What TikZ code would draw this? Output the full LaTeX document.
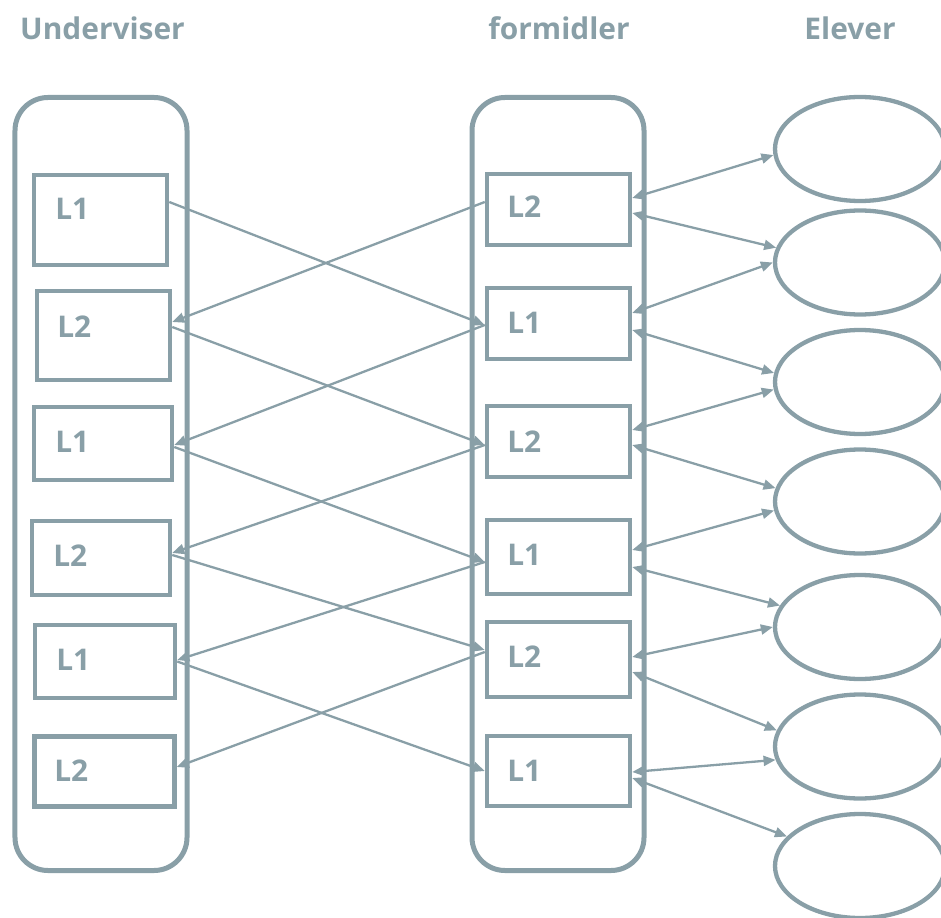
\documentclass[tikz,border=0pt]{standalone}
\usepackage{fontspec}
\setmainfont{Open Sans}
\usetikzlibrary{arrows.meta,shapes.geometric}
\definecolor{gb}{RGB}{137,159,167}
\tikzset{
  container/.style={draw=gb, line width=1mm, rounded corners=6.6mm, minimum width=34.4mm, minimum height=154.6mm, inner sep=0},
  lbox/.style={draw=gb, line width=0.9mm, inner sep=0},
  ell/.style={draw=gb, line width=0.86mm, ellipse, minimum width=34mm, minimum height=20.8mm, inner sep=0},
  ttl/.style={text=gb, font=\fontsize{17}{20}\selectfont\bfseries, anchor=base, inner sep=0},
  lbl/.style={text=gb, font=\fontsize{17}{20}\selectfont\bfseries, anchor=base west, inner sep=0},
  conn/.style={draw=gb, line width=0.46mm, -{Triangle[length=2.4mm,width=2mm]}},
  dconn/.style={draw=gb, line width=0.46mm, {Triangle[length=2.4mm,width=2mm]}-{Triangle[length=2.4mm,width=2mm]}}
}
\begin{document}
\begin{tikzpicture}[x=0.2mm, y=-0.2mm]
\useasboundingbox (0,0) rectangle (941,918);
% titles
\node[ttl] (t1) at (102.5,40) {Underviser};
\node[ttl] (t2) at (559,40) {formidler};
\node[ttl] (t3) at (850,40) {Elever};
% containers
\node[container] (cl) at (101,484) {};
\node[container] (cm) at (558,484) {};
% left boxes
\node[lbox, minimum width=26.6mm, minimum height=18mm]   (l1) at (100.5,220) {};
\node[lbox, minimum width=26.6mm, minimum height=17.8mm] (l2) at (103.5,335.5) {};
\node[lbox, minimum width=27.6mm, minimum height=14.6mm] (l3) at (103,443.5) {};
\node[lbox, minimum width=27.6mm, minimum height=14.8mm] (l4) at (101,558) {};
\node[lbox, minimum width=28mm, minimum height=14.6mm]   (l5) at (105,661.5) {};
\node[lbox, minimum width=28mm, minimum height=14mm]     (l6) at (104.5,771.5) {};
% middle boxes
\node[lbox, minimum width=28.6mm, minimum height=14.2mm] (m1) at (558.5,209.5) {};
\node[lbox, minimum width=28.6mm, minimum height=14.2mm] (m2) at (558.5,323.5) {};
\node[lbox, minimum width=28.6mm, minimum height=14.2mm] (m3) at (558.5,441.5) {};
\node[lbox, minimum width=28.6mm, minimum height=14.8mm] (m4) at (558.5,557) {};
\node[lbox, minimum width=28.6mm, minimum height=15mm]   (m5) at (558.5,659.5) {};
\node[lbox, minimum width=28.6mm, minimum height=14mm]   (m6) at (558.5,771) {};
% labels
\node[lbl] (tl1) at (55,220) {L1};
\node[lbl] (tl2) at (57,337) {L2};
\node[lbl] (tl3) at (55,452) {L1};
\node[lbl] (tl4) at (53,566) {L2};
\node[lbl] (tl5) at (56,670) {L1};
\node[lbl] (tl6) at (54,781) {L2};
\node[lbl] (tm1) at (507,218) {L2};
\node[lbl] (tm2) at (507,333) {L1};
\node[lbl] (tm3) at (507,452) {L2};
\node[lbl] (tm4) at (507,565) {L1};
\node[lbl] (tm5) at (507,667) {L2};
\node[lbl] (tm6) at (507,781) {L1};
% ellipses
\node[ell] (e1) at (860,149) {};
\node[ell] (e2) at (860,262.5) {};
\node[ell] (e3) at (860,382) {};
\node[ell] (e4) at (860,501.5) {};
\node[ell] (e5) at (860,627) {};
\node[ell] (e6) at (860,746.5) {};
\node[ell] (e7) at (860,866) {};
% left <-> middle connectors
\draw[conn] ([yshift=3.6mm]l1.east) -- ([yshift=-0.3mm]m2.west);
\draw[conn] ([yshift=1.5mm]m1.west) -- ([yshift=2.7mm]l2.east);
\draw[conn] ([yshift=1.7mm]l2.east) -- ([yshift=-0.7mm]m3.west);
\draw[conn] ([yshift=-0.3mm]m2.west) -- ([yshift=-0.3mm]l3.east);
\draw[conn] ([yshift=-0.7mm]l3.east) -- ([yshift=-1mm]m4.west);
\draw[conn] ([yshift=-0.7mm]m3.west) -- ([yshift=1mm]l4.east);
\draw[conn] ([yshift=0.6mm]l4.east) -- ([yshift=1.9mm]m5.west);
\draw[conn] ([yshift=-1mm]m4.west) -- ([yshift=0.3mm]l5.east);
\draw[conn] (l5.east) -- (m6.west);
\draw[conn] ([yshift=1.5mm]m5.west) -- ([yshift=0.9mm]l6.east);
% middle <-> ellipses
\draw[dconn] ([yshift=2.3mm]m1.east) -- (e1.184);
\draw[dconn] ([yshift=-0.7mm]m1.east) -- (e2.170);
\draw[dconn] ([yshift=2.1mm]m2.east) -- (e2.180);
\draw[dconn] ([yshift=-1.3mm]m2.east) -- (e3.174);
\draw[dconn] ([yshift=2.3mm]m3.east) -- (e3.185);
\draw[dconn] ([yshift=-0.7mm]m3.east) -- (e4.171);
\draw[dconn] ([yshift=1.4mm]m4.east) -- (e4.186);
\draw[dconn] ([yshift=-2mm]m4.east) -- (e5.165);
\draw[dconn] ([yshift=0.5mm]m5.east) -- (e5.180);
\draw[dconn] ([yshift=-2.5mm]m5.east) -- (e6.169);
\draw[dconn] ([yshift=-0.2mm]m6.east) -- (e6.189);
\draw[dconn] ([yshift=-1.4mm]m6.east) -- (e7.158);
\end{tikzpicture}
\end{document}
